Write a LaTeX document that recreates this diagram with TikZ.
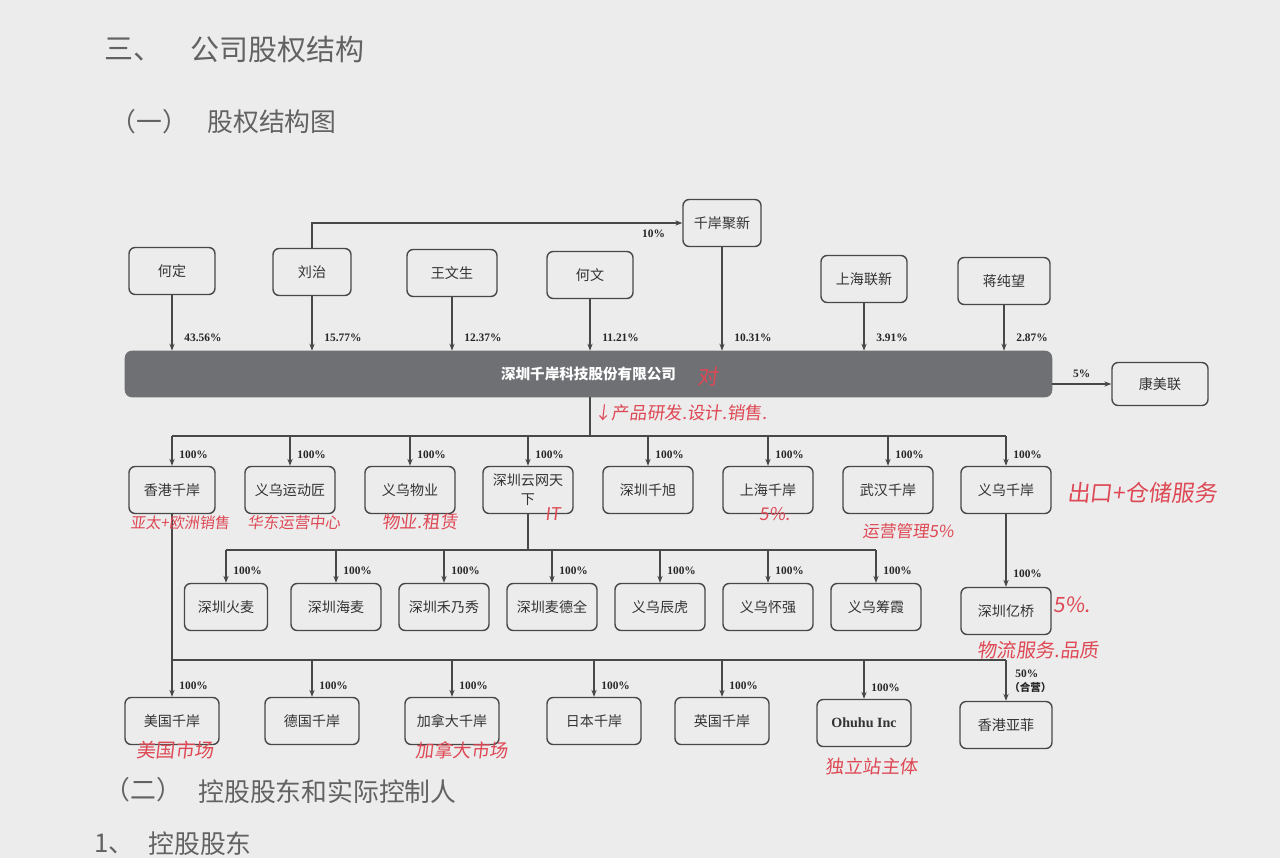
\documentclass[tikz,border=0pt]{standalone}
\usepackage{fontspec}
\setmainfont{Liberation Serif}
\newfontfamily\cjk{Noto Sans CJK SC}
\newfontfamily\hand[FakeSlant=0.12]{Noto Sans CJK SC}
\usetikzlibrary{arrows.meta,calc}
\definecolor{paper}{RGB}{236,236,236}
\definecolor{ink}{RGB}{72,72,72}
\definecolor{barc}{RGB}{110,112,116}
\definecolor{handc}{RGB}{222,72,84}
\definecolor{headc}{RGB}{98,98,98}
\tikzset{
  bx/.style={draw=ink, line width=0.8pt, rounded corners=3.5pt, minimum width=1.8cm,
    minimum height=0.94cm, inner sep=1pt, text=black!80, font=\cjk\fontsize{8}{10}\selectfont},
  pct/.style={anchor=west, inner sep=0pt, text=black!85, font=\bfseries\fontsize{6.5}{7}\selectfont},
  ln/.style={draw=ink, line width=0.6pt},
  arr/.style={draw=ink, line width=0.6pt, -{Stealth[length=4pt,width=3pt]}},
  hw/.style={text=handc, inner sep=0pt, font=\hand\fontsize{#1}{#1}\selectfont},
  hw/.default=10,
  hd/.style={text=headc, inner sep=0pt, anchor=west, font=\cjk\fontsize{#1}{#1}\selectfont},
}
\begin{document}
\begin{tikzpicture}[x=0.02cm, y=-0.02cm]
\useasboundingbox (0,0) rectangle (1280,858);
\clip (0,0) rectangle (1280,858);
\fill[paper] (0,0) rectangle (1280,858);

% headings
\node[hd=16.5] (h1a) at (104,50) {三、};
\node[hd=16.5] (h1b) at (190,50) {公司股权结构};
\node[hd=14.7] (h2a) at (110,122) {（一）};
\node[hd=14.7] (h2b) at (207,122) {股权结构图};
\node[hd=14.7] (h3a) at (104,790) {（二）};
\node[hd=14.7] (h3b) at (198,792) {控股股东和实际控制人};
\node[hd=14.7] (h4a) at (94,844) {1、};
\node[hd=14.7] (h4b) at (148,844) {控股股东};

% top row
\node[bx, minimum width=1.72cm] (hd) at (172,271) {何定};
\node[bx, minimum width=1.56cm] (lz) at (312,272) {刘治};
\node[bx] (wws) at (452,273) {王文生};
\node[bx, minimum width=1.72cm] (hwn) at (590,275) {何文};
\node[bx, minimum width=1.56cm] (qj) at (722,223) {千岸聚新};
\node[bx, minimum width=1.72cm] (shlx) at (864,279) {上海联新};
\node[bx, minimum width=1.84cm] (jcw) at (1004,281) {蒋纯望};

\node[draw=barc, fill=barc, rounded corners=4pt, minimum width=18.54cm, minimum height=0.92cm,
  inner sep=0pt, text=white, font=\cjk\bfseries\fontsize{8.3}{10}\selectfont] (bar) at (588.5,374) {深圳千岸科技股份有限公司};
\node[bx, minimum width=1.92cm, minimum height=0.86cm] (kml) at (1160,384) {康美联};

\foreach \n in {hd,lz,wws,hwn,qj,shlx,jcw} \draw[arr] (\n.south) -- (\n.south |- bar.north);
\draw[arr] (lz.north) |- (qj.west);
\node[pct, anchor=east] at ($(qj.west)+(-17,11)$) {10\%};
\node[pct] at ($(hd.south |- bar.north)+(12,-13)$) {43.56\%};
\node[pct] at ($(lz.south |- bar.north)+(12,-13)$) {15.77\%};
\node[pct] at ($(wws.south |- bar.north)+(12,-13)$) {12.37\%};
\node[pct] at ($(hwn.south |- bar.north)+(12,-13)$) {11.21\%};
\node[pct] at ($(qj.south |- bar.north)+(12,-13)$) {10.31\%};
\node[pct] at ($(shlx.south |- bar.north)+(12,-13)$) {3.91\%};
\node[pct] at ($(jcw.south |- bar.north)+(12,-13)$) {2.87\%};
\draw[arr] (bar.east |- kml) -- (kml.west);
\node[pct, anchor=south] at ($(bar.east |- kml)!0.5!(kml.west)+(0,-6)$) {5\%};

% second row
\node[bx, minimum width=1.72cm] (hk) at (172,490) {香港千岸};
\node[bx] (ydj) at (290,490) {义乌运动匠};
\node[bx] (ywy) at (410,490) {义乌物业};
\node[bx, align=center, font=\cjk\fontsize{8}{11}\selectfont] (yw) at (528,490) {深圳云网天\\下};
\node[bx] (sqx) at (648,490) {深圳千旭};
\node[bx] (shq) at (768,490) {上海千岸};
\node[bx] (whq) at (888,490) {武汉千岸};
\node[bx] (ywq) at (1006,490) {义乌千岸};
\coordinate (t2) at (590,436);
\draw[ln] (bar.south -| t2) -- (t2);
\draw[ln] (hk.north |- t2) -- (ywq.north |- t2);
\foreach \n in {hk,ydj,ywy,yw,sqx,shq,whq,ywq}{
  \draw[arr] (\n.north |- t2) -- (\n.north);
  \node[pct] at ($(\n.north)+(7,-11)$) {100\%};
}

% third row
\node[bx, minimum width=1.66cm] (hm) at (226,607) {深圳火麦};
\node[bx] (hmai) at (336,607) {深圳海麦};
\node[bx] (hnx) at (444,607) {深圳禾乃秀};
\node[bx] (mdq) at (552,607) {深圳麦德全};
\node[bx] (ych) at (660,607) {义乌辰虎};
\node[bx] (yhq) at (768,607) {义乌怀强};
\node[bx] (ycx) at (876,607) {义乌筹霞};
\coordinate (t3) at (528,550);
\draw[ln] (yw.south) -- (t3);
\draw[ln] (hm.north |- t3) -- (ycx.north |- t3);
\foreach \n in {hm,hmai,hnx,mdq,ych,yhq,ycx}{
  \draw[arr] (\n.north |- t3) -- (\n.north);
  \node[pct] at ($(\n.north)+(7,-12)$) {100\%};
}
\node[bx] (yq) at (1006,611) {深圳亿桥};
\draw[arr] (ywq.south) -- (yq.north);
\node[pct] at ($(yq.north)+(7,-13)$) {100\%};

% fourth row
\node[bx, minimum width=1.88cm] (us) at (172,721) {美国千岸};
\node[bx, minimum width=1.88cm] (de) at (312,721) {德国千岸};
\node[bx, minimum width=1.88cm] (ca) at (452,721) {加拿大千岸};
\node[bx, minimum width=1.88cm] (jp) at (594,721) {日本千岸};
\node[bx, minimum width=1.88cm] (uk) at (722,721) {英国千岸};
\node[bx, minimum width=1.88cm, font=\bfseries\fontsize{8}{10}\selectfont] (oh) at (864,723) {Ohuhu Inc};
\node[bx, minimum width=1.84cm] (yf) at (1006,725) {香港亚菲};
\coordinate (t4) at (172,660);
\draw[ln] (hk.south) -- (t4);
\draw[ln] (t4) -- (yf.north |- t4);
\foreach \n in {us,de,ca,jp,uk,oh}{
  \draw[arr] (\n.north |- t4) -- (\n.north);
  \node[pct] at ($(\n.north)+(7,-11)$) {100\%};
}
\draw[arr] (yf.north |- t4) -- (yf.north);
\node[pct] at ($(yf.north)+(9,-27)$) {50\%};
\node[pct, font=\cjk\bfseries\fontsize{6}{7}\selectfont] at ($(yf.north)+(3,-13)$) {（合营）};

% handwritten notes
\node[hw=12] at (708,376) {对};
\node[hw=10, anchor=west] at (594,413) {↓产品研发.设计.销售.};
\node[hw=8.6] at (180,523) {亚太+欧洲销售};
\node[hw=8.8] at (294,523) {华东运营中心};
\node[hw=10] at (420,522) {物业.租赁};
\node[hw=10] at (553,514) {IT};
\node[hw=10] at (775,514) {5\%.};
\node[hw=9.5] at (908,531) {运营管理5\%};
\node[hw=13] at (1142,493) {出口+仓储服务};
\node[hw=12] at (1072,605) {5\%.};
\node[hw=11] at (1038,650) {物流服务.品质};
\node[hw=11] at (175,750) {美国市场};
\node[hw=10.5] at (462,750) {加拿大市场};
\node[hw=10.5] at (872,766) {独立站主体};
\end{tikzpicture}
\end{document}
